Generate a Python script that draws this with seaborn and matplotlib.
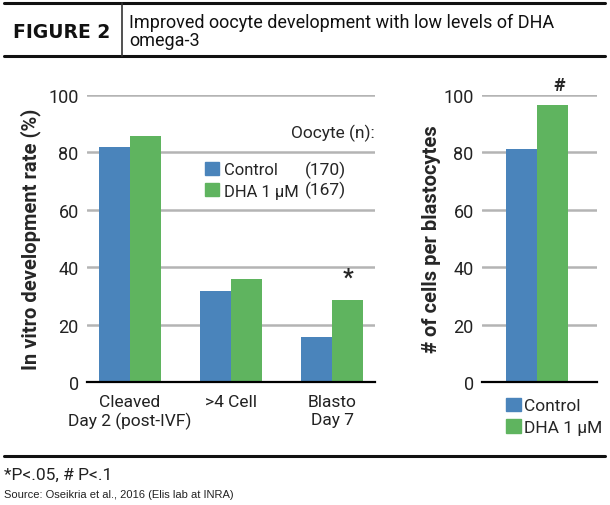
import matplotlib
matplotlib.use("Agg")
import matplotlib.pyplot as plt
from matplotlib.lines import Line2D
from matplotlib.patches import Patch
import pandas as pd
import seaborn as sns

# data
stages = ["Cleaved\nDay 2 (post-IVF)", ">4 Cell", "Blasto\nDay 7"]
control_rate = [81.8, 31.7, 15.8]
dha_rate = [85.8, 35.9, 28.6]
groups = ["Control", "DHA 1 µM"]
oocyte_n = [170, 167]
cells_per_blasto = [81.2, 96.5]
star_marks = ["", "", "*"]

BLUE = "#4a84bb"
GREEN = "#5fb45f"
GRID = "#b4b4b4"

sns.set_theme(style="white")
plt.rcParams["font.family"] = ["Roboto", "DejaVu Sans"]

W, H = 610, 506
fig = plt.figure(figsize=(W / 100, H / 100), dpi=100)


def px_axes(x0, y0, x1, y1):
    return fig.add_axes([x0 / W, 1 - y1 / H, (x1 - x0) / W, (y1 - y0) / H])


def style_ax(ax):
    ax.set_ylim(0, 100)
    ax.set_yticks([0, 20, 40, 60, 80, 100])
    for y in [20, 40, 60, 80, 100]:
        ax.axhline(y, color=GRID, lw=1.8, zorder=0)
    for s in ["top", "right", "left"]:
        ax.spines[s].set_visible(False)
    ax.spines["bottom"].set_color("black")
    ax.spines["bottom"].set_linewidth(1.6)
    ax.spines["bottom"].set_zorder(5)
    ax.tick_params(axis="both", length=0, labelsize=13, colors="#222222", pad=6)
    ax.set_xlabel("")


# ── Left panel ────────────────────────────────────────────────────────────────
df_left = pd.DataFrame({
    "stage": stages * 2,
    "rate": control_rate + dha_rate,
    "group": [groups[0]] * 3 + [groups[1]] * 3,
})
ax1 = px_axes(87, 96, 375, 383)
sns.barplot(data=df_left, x="stage", y="rate", hue="group", order=stages,
            hue_order=groups, palette=[BLUE, GREEN], width=0.61, saturation=1,
            linewidth=0, ax=ax1, legend=False, zorder=2)
style_ax(ax1)
ax1.set_xlim(-0.42, 2.42)
ax1.set_ylabel("In vitro development rate (%)", fontsize=14.5, fontweight="bold",
               labelpad=5)
ax1.tick_params(axis="x", labelsize=12.5, pad=9)
for i, m in enumerate(star_marks):
    if m:
        ax1.text(i + 0.1525, dha_rate[i] + 4, m, ha="center", va="bottom",
                 fontsize=17, fontweight="bold")

handles = [Patch(color=BLUE), Patch(color=GREEN)]
leg = ax1.legend(handles, groups, loc="upper left", bbox_to_anchor=(0.385, 0.79),
                 frameon=False, fontsize=12, handlelength=0.85, handleheight=0.85,
                 handletextpad=0.3, labelspacing=0.35, borderaxespad=0)
ax1.text(1.0, 0.87, "Oocyte (n):", transform=ax1.transAxes, ha="right",
         va="center", fontsize=12.5)
for k, n in enumerate(oocyte_n):
    ax1.text(0.755, 0.742 - k * 0.072, f"({n})", transform=ax1.transAxes,
             ha="left", va="center", fontsize=12.5)

# ── Right panel ───────────────────────────────────────────────────────────────
df_right = pd.DataFrame({"stage": ["Blasto"] * 2, "cells": cells_per_blasto,
                         "group": groups})
ax2 = px_axes(482, 96, 597, 383)
sns.barplot(data=df_right, x="stage", y="cells", hue="group", hue_order=groups,
            palette=[BLUE, GREEN], width=0.61, saturation=1, linewidth=0,
            ax=ax2, legend=False, zorder=2)
style_ax(ax2)
ax2.set_xlim(-0.54, 0.59)
ax2.set_xticks([])
ax2.set_ylabel("# of cells per blastocytes", fontsize=14.5, fontweight="bold",
               labelpad=2)
ax2.text(0.22, cells_per_blasto[1] + 4, "#", ha="center", va="bottom",
         fontsize=14, fontweight="bold", clip_on=False)
ax2.legend(handles, groups, loc="upper left", bbox_to_anchor=(0.15, -0.03),
           frameon=False, fontsize=12.5, handlelength=0.85, handleheight=0.85,
           handletextpad=0.15, labelspacing=0.3, borderaxespad=0)

# ── Header / footer ───────────────────────────────────────────────────────────
def hline(y, x0=4, x1=605, lw=2.2):
    fig.add_artist(Line2D([x0 / W, x1 / W], [1 - y / H, 1 - y / H],
                          color="#111111", lw=lw))

hline(4)
hline(57)
fig.add_artist(Line2D([122 / W, 122 / W], [1 - 4 / H, 1 - 57 / H],
                      color="#333333", lw=1.2))
fig.text(13 / W, 1 - 32 / H, "FIGURE 2", fontsize=13.5, fontweight="bold",
         va="center", ha="left", family=["DejaVu Sans"], color="#111111")
fig.text(129 / W, 1 - 32 / H, "Improved oocyte development with low levels of DHA\nomega-3",
         fontsize=13, va="center", ha="left", family=["Roboto", "DejaVu Sans"],
         linespacing=1.05, color="#111111")

hline(457)
fig.text(4 / W, 1 - 475 / H, "*P<.05, # P<.1", fontsize=12.5, va="center",
         ha="left", color="#222222")
fig.text(4 / W, 1 - 495 / H, "Source: Oseikria et al., 2016 (Elis lab at INRA)",
         fontsize=8, va="center", ha="left", color="#222222",
         family=["Liberation Sans", "DejaVu Sans"])

fig.savefig("out.png", dpi=100)
